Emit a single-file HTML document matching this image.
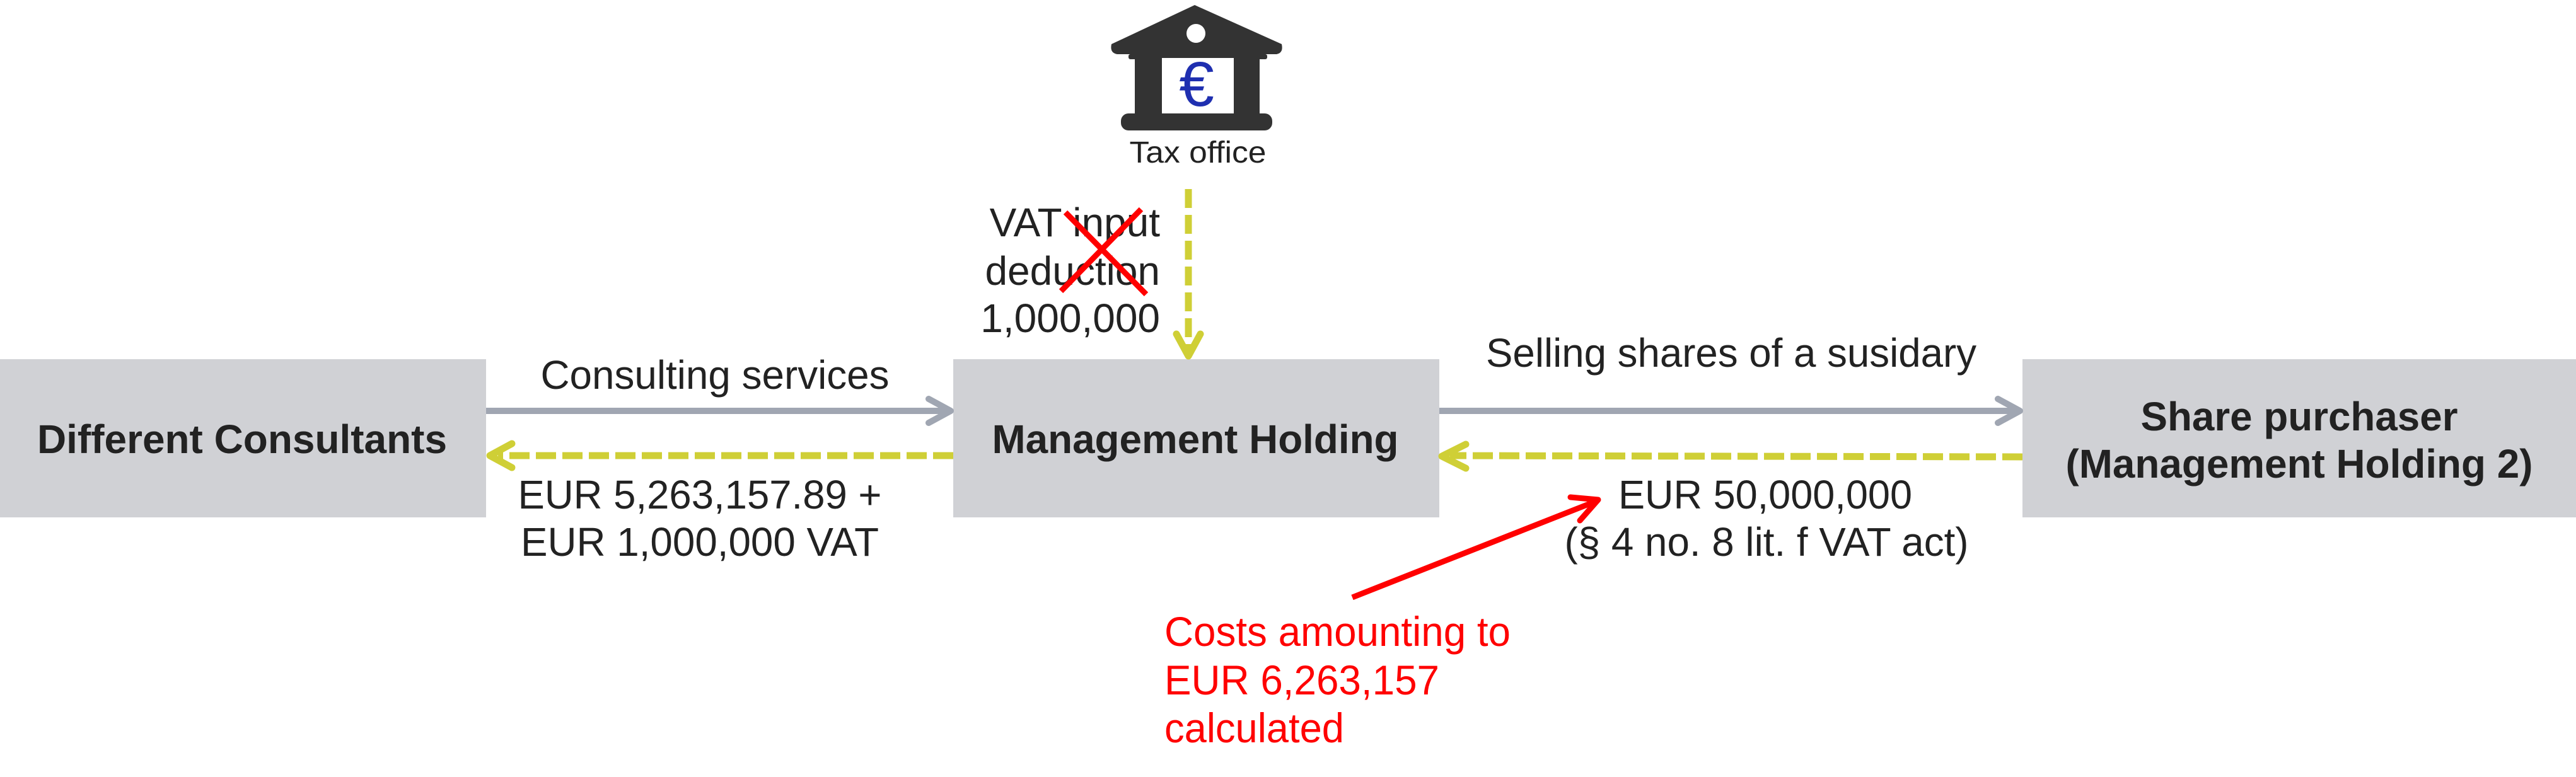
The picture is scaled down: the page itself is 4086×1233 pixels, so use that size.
<!DOCTYPE html>
<html><head><meta charset="utf-8"><style>html,body{margin:0;padding:0;background:#fff}svg{display:block}</style></head>
<body>
<svg width="4086" height="1233" viewBox="0 0 4086 1233" xmlns="http://www.w3.org/2000/svg" font-family="'Liberation Sans', Arial, sans-serif">
<rect width="4086" height="1233" fill="#fff"/>
<rect x="0" y="570" width="771" height="251" fill="#d0d1d5"/>
<rect x="1512" y="570" width="771" height="251" fill="#d0d1d5"/>
<rect x="3208" y="570" width="878" height="251" fill="#d0d1d5"/>
<g stroke="#a0a6b2" stroke-width="10" fill="none" stroke-linecap="round" stroke-linejoin="round">
<line x1="771" y1="652" x2="1506" y2="652" stroke-linecap="butt"/>
<polyline points="1473,633 1508,652 1473,671"/>
<line x1="2283" y1="652" x2="3202" y2="652" stroke-linecap="butt"/>
<polyline points="3169,633 3204,652 3169,671"/>
</g>
<g stroke="#cfcf36" stroke-width="11" fill="none">
<line x1="1512" y1="723" x2="790" y2="723" stroke-dasharray="32 10"/>
<line x1="3208" y1="725" x2="2300" y2="723" stroke-dasharray="32 10"/>
<line x1="1885" y1="300" x2="1885" y2="560" stroke-dasharray="30 11"/>
<g stroke-linecap="round" stroke-linejoin="round">
<polyline points="812,704 777,723 812,742"/>
<polyline points="2325,705 2287,724 2325,743"/>
<polyline points="1866,530 1885,565 1904,530"/>
</g>
</g>
<g fill="#333">
<path d="M1763,70 L1895,8 L2033,70 Q2036,84 2025,86 L1772,86 Q1760,84 1763,70 Z"/>
<rect x="1790" y="86" width="220" height="8" rx="3"/>
<rect x="1800" y="90" width="44" height="92"/>
<rect x="1956" y="90" width="42" height="92"/>
<rect x="1778" y="180" width="240" height="27" rx="12"/>
</g>
<circle cx="1897" cy="53" r="15" fill="#fff"/>
<rect x="1843" y="92" width="114" height="88" fill="#fff"/>
<text x="1898" y="168" text-anchor="middle" font-size="100" fill="#1f2fb0">€</text>
<text x="1900" y="258" text-anchor="middle" font-size="48" fill="#222" textLength="217" lengthAdjust="spacingAndGlyphs">Tax office</text>
<g font-size="64" fill="#222" text-anchor="end">
<text x="1840" y="375">VAT input</text>
<text x="1840" y="452">deduction</text>
<text x="1840" y="527">1,000,000</text>
</g>
<g stroke="#ff0000" stroke-width="9">
<line x1="1690" y1="337" x2="1818" y2="467"/>
<line x1="1810" y1="332" x2="1683" y2="462"/>
</g>
<g font-size="64" fill="#222" text-anchor="middle">
<text x="1134" y="617" textLength="553" lengthAdjust="spacingAndGlyphs">Consulting services</text>
<text x="2746" y="582" textLength="778" lengthAdjust="spacingAndGlyphs">Selling shares of a susidary</text>
<text x="1110" y="807" textLength="577" lengthAdjust="spacingAndGlyphs">EUR 5,263,157.89 +</text>
<text x="1110" y="882" textLength="568" lengthAdjust="spacingAndGlyphs">EUR 1,000,000 VAT</text>
<text x="2800" y="807" textLength="466" lengthAdjust="spacingAndGlyphs">EUR 50,000,000</text>
<text x="2802" y="882" textLength="641" lengthAdjust="spacingAndGlyphs">(§ 4 no. 8 lit. f VAT act)</text>
</g>
<g font-size="64" font-weight="bold" fill="#222" text-anchor="middle">
<text x="384" y="719" textLength="650" lengthAdjust="spacingAndGlyphs">Different Consultants</text>
<text x="1896" y="719" textLength="645" lengthAdjust="spacingAndGlyphs">Management Holding</text>
<text x="3647" y="683" textLength="503" lengthAdjust="spacingAndGlyphs">Share purchaser</text>
<text x="3647" y="758" textLength="741" lengthAdjust="spacingAndGlyphs">(Management Holding 2)</text>
</g>
<g stroke="#ff0000" stroke-width="9" fill="none" stroke-linecap="round" stroke-linejoin="round">
<line x1="2145" y1="948" x2="2530" y2="796" stroke-linecap="butt"/>
<polyline points="2491,789 2535,793 2506,826"/>
</g>
<g font-size="66" fill="#ff0000">
<text x="1847" y="1025" textLength="549" lengthAdjust="spacingAndGlyphs">Costs amounting to</text>
<text x="1847" y="1102" textLength="436" lengthAdjust="spacingAndGlyphs">EUR 6,263,157</text>
<text x="1847" y="1178" textLength="285" lengthAdjust="spacingAndGlyphs">calculated</text>
</g>
</svg>
</body></html>
